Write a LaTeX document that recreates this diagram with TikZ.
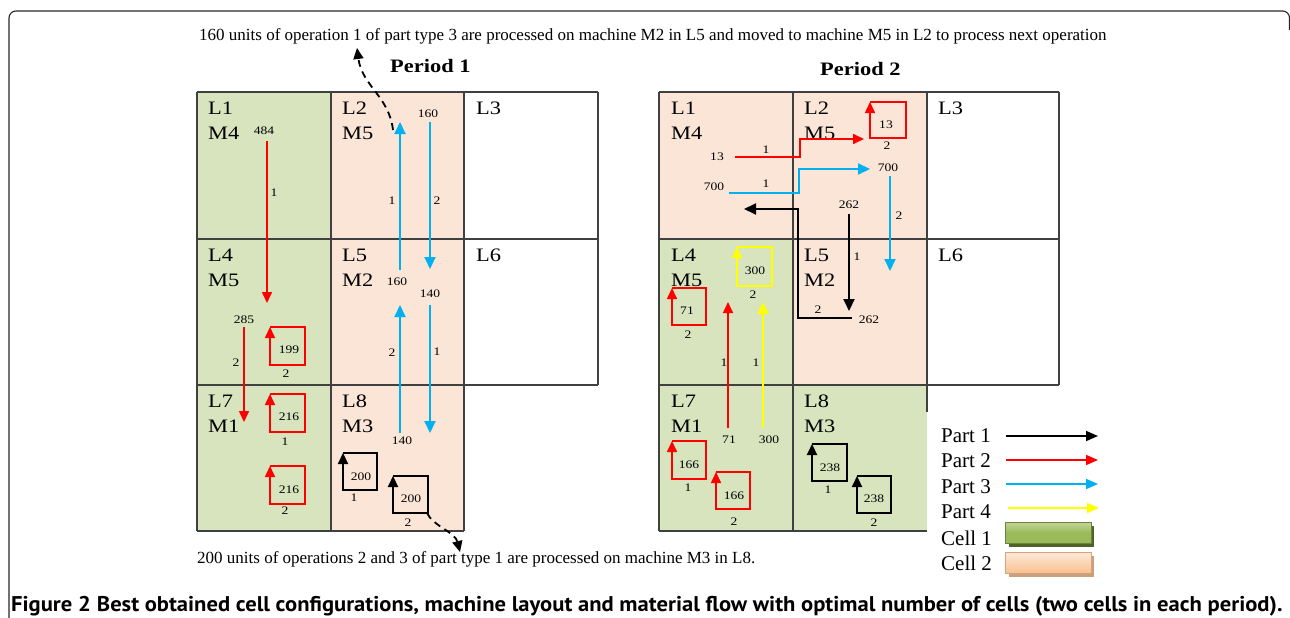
\documentclass[tikz,border=0pt]{standalone}
\usepackage{fontspec}
\setmainfont{Liberation Serif}
\newfontfamily\wideserif{Liberation Serif}[FakeStretch=1.18]
\newfontfamily\capfont{PT Sans}[FakeStretch=1.06]
\usetikzlibrary{arrows.meta}
\definecolor{gcell}{HTML}{D7E4BD}
\definecolor{pcell}{HTML}{FBE5D6}
\definecolor{pblue}{HTML}{00B0F0}
\definecolor{pyel}{HTML}{FFFF00}
\definecolor{gridc}{HTML}{404040}
\definecolor{cellonea}{HTML}{9BBB59}
\definecolor{celloneb}{HTML}{C3D69B}
\definecolor{cellonec}{HTML}{4F6228}
\definecolor{celltwoa}{HTML}{FAC090}
\definecolor{celltwob}{HTML}{FDEADA}
\definecolor{celltwoc}{HTML}{C9A07E}
\newcommand\celllab[5]{%
  \node[lab] (#1L) at (#2,{#3+22}) {#4};
  \node[lab] (#1M) at (#2,{#3+47}) {#5};}
\newcommand\loopbox[6]{%
  \draw[#1] (#2,#3) -- (#4,#3) -- (#4,#5) -- (#2,#5) -- (#2,#3);}
\begin{document}
\begin{tikzpicture}[x=1pt,y=-1pt,
  gl/.style={draw=gridc,line width=1.4pt},
  lab/.style={font=\wideserif\fontsize{19}{22}\selectfont,anchor=base west,inner sep=0pt},
  num/.style={font=\wideserif\fontsize{11.5}{12}\selectfont,inner sep=0pt},
  note/.style={font=\fontsize{17}{20}\selectfont,anchor=base west,inner sep=0pt},
  per/.style={font=\wideserif\bfseries\fontsize{19}{22}\selectfont,anchor=base west,inner sep=0pt},
  leg/.style={font=\fontsize{21}{24}\selectfont,anchor=base west,inner sep=0pt},
  redarr/.style={draw=red,line width=1.6pt,-{Triangle[length=11pt,width=10pt]}},
  redloop/.style={draw=red,line width=1.6pt,line join=miter,-{Triangle[length=11pt,width=10pt]}},
  bluearr/.style={draw=pblue,line width=1.9pt,-{Triangle[length=12pt,width=11pt]}},
  yelarr/.style={draw=pyel,line width=1.9pt,-{Triangle[length=12pt,width=11pt]}},
  yelloop/.style={draw=pyel,line width=1.9pt,line join=miter,-{Triangle[length=11pt,width=10pt]}},
  blkarr/.style={draw=black,line width=2pt,-{Triangle[length=12pt,width=11pt]}},
  blkloop/.style={draw=black,line width=2.2pt,line join=miter,-{Triangle[length=11pt,width=10pt]}},
  dasharr/.style={draw=black,line width=1.8pt,dash pattern=on 7pt off 5pt,-{Triangle[length=11pt,width=10pt]}},
  legarr/.style={line width=1.6pt,-{Triangle[length=12pt,width=10pt]}}]
\useasboundingbox (0,0) rectangle (1290,618);
% outer frame
\draw[line width=1.1pt,draw=black!85,rounded corners=7pt] (9,640) -- (9,11) -- (1289.5,11) -- (1289.5,30);

% ---------------- Period 1 ----------------
\fill[gcell] (197,92) rectangle (331,531);
\fill[pcell] (331,92) rectangle (464,531);
\draw[gl] (197,92) -- (598,92) (197,239) -- (598,239) (197,385) -- (598,385) (197,531) -- (464,531);
\draw[gl] (197,92) -- (197,531) (331,92) -- (331,531) (464,92) -- (464,531) (598,92) -- (598,385);
\celllab{a1}{208}{92}{L1}{M4}
\celllab{a2}{342}{92}{L2}{M5}
\node[lab] (a3L) at (476,114) {L3};
\celllab{a4}{208}{239}{L4}{M5}
\celllab{a5}{342}{239}{L5}{M2}
\node[lab] (a6L) at (476,261) {L6};
\celllab{a7}{208}{385}{L7}{M1}
\celllab{a8}{342}{385}{L8}{M3}
\node[per] (per1) at (390,72) {Period 1};

% red flows
\draw[redarr] (267,141) -- (267,303);
\node[num] (n484) at (264,131) {484};
\node[num] (n484o) at (274,193) {1};
\draw[redarr] (244,327) -- (244,422);
\node[num] (n285) at (244,320) {285};
\node[num] (n285o) at (236,363) {2};
\loopbox{redloop}{270}{327}{305}{365}{}
\node[num] (n199) at (289,350) {199};
\node[num] (n199o) at (286,374) {2};
\loopbox{redloop}{270}{394}{305}{432}{}
\node[num] (n216a) at (289,417) {216};
\node[num] (n216ao) at (285,442) {1};
\loopbox{redloop}{270}{466}{305}{504}{}
\node[num] (n216b) at (289,490) {216};
\node[num] (n216bo) at (285,511) {2};
% blue flows
\draw[bluearr] (400,270) -- (400,122);
\draw[bluearr] (400,433) -- (400,305);
\draw[bluearr] (430,122) -- (430,269);
\draw[bluearr] (430,305) -- (430,433);
\node[num] (b160t) at (428,114) {160};
\node[num] (b1a) at (392,201) {1};
\node[num] (b2a) at (437,201) {2};
\node[num] (b160m) at (397,282) {160};
\node[num] (b140m) at (430,294) {140};
\node[num] (b2b) at (392,353) {2};
\node[num] (b1b) at (437,352) {1};
\node[num] (b140b) at (402,441) {140};
% black loops
\loopbox{blkloop}{343}{453}{377}{490}{}
\node[num] (k200a) at (361,477) {200};
\node[num] (k200ao) at (354,498) {1};
\loopbox{blkloop}{393}{476}{428}{513}{}
\node[num] (k200b) at (411,499) {200};
\node[num] (k200bo) at (408,523) {2};
% notes
\node[note] (topnote) at (199,40.5) {160 units of operation 1 of part type 3 are processed on machine M2 in L5 and moved to machine M5 in L2 to process next operation};
\node[note] (botnote) at (197,563) {200 units of operations 2 and 3 of part type 1 are processed on machine M3 in L8.};
\coordinate (dtop) at (393,130);
\coordinate (dbot) at (427,513);
\draw[dasharr] (dtop) .. controls (389,96) and (362,86) .. (357,48);
\draw[dasharr] (dbot) .. controls (433,526) and (455,532) .. (460,552);

% ---------------- Period 2 ----------------
\fill[pcell] (659,92) rectangle (927,239);
\fill[gcell] (659,239) rectangle (793,385);
\fill[pcell] (793,239) rectangle (927,385);
\fill[gcell] (659,385) rectangle (927,531);
\draw[gl] (659,92) -- (1059,92) (659,239) -- (1059,239) (659,385) -- (1059,385) (659,531) -- (927,531);
\draw[gl] (659,92) -- (659,531) (793,92) -- (793,531) (927,92) -- (927,412) (1059,92) -- (1059,385);
\celllab{c1}{671}{92}{L1}{M4}
\celllab{c2}{804}{92}{L2}{M5}
\node[lab] (c3L) at (938,114) {L3};
\celllab{c4}{671}{239}{L4}{M5}
\celllab{c5}{804}{239}{L5}{M2}
\node[lab] (c6L) at (938,261) {L6};
\celllab{c7}{671}{385}{L7}{M1}
\celllab{c8}{804}{385}{L8}{M3}
\node[per] (per2) at (820,75) {Period 2};

% red
\draw[redarr] (735,157) -- (800,157) -- (800,139) -- (864,139);
\node[num] (r13) at (717,157) {13};
\node[num] (r13o) at (766,150) {1};
\loopbox{redloop}{870}{102}{906}{138}{}
\node[num] (r13b) at (886,125) {13};
\node[num] (r13bo) at (887,146) {2};
% blue
\draw[bluearr] (729,193) -- (799,193) -- (799,169) -- (870,169);
\node[num] (u700) at (714,187) {700};
\node[num] (u700o) at (766,184) {1};
\node[num] (u700b) at (888,168) {700};
\draw[bluearr] (890,176) -- (890,271);
\node[num] (u2) at (899,216) {2};
% black
\node[num] (k262) at (849,205) {262};
\draw[blkarr] (849,214) -- (849,311);
\node[num] (k262o) at (857,257) {1};
\node[num] (k262b) at (869,320) {262};
\draw[blkarr] (852,318) -- (798,318) -- (798,209) -- (744,209);
\node[num] (k262bo) at (818,310) {2};
% L4 loops
\loopbox{yelloop}{737}{247}{772}{286}{}
\node[num] (y300) at (755,271) {300};
\node[num] (y300o) at (753,295) {2};
\loopbox{redloop}{672}{288}{706}{325}{}
\node[num] (r71) at (687,311) {71};
\node[num] (r71o) at (688,335) {2};
% vertical flows L7 -> L4
\draw[redarr] (728,428) -- (728,302);
\node[num] (r71b) at (729,440) {71};
\node[num] (r71bo) at (724,363) {1};
\draw[yelarr] (763,428) -- (763,302);
\node[num] (y300b) at (769,440) {300};
\node[num] (y300bo) at (756,363) {1};
% L7 loops
\loopbox{redloop}{672}{441}{706}{479}{}
\node[num] (r166a) at (689,465) {166};
\node[num] (r166ao) at (688,488) {1};
\loopbox{redloop}{716}{472}{750}{509}{}
\node[num] (r166b) at (734,496) {166};
\node[num] (r166bo) at (734,522) {2};
% L8 loops
\loopbox{blkloop}{812}{444}{847}{481}{}
\node[num] (k238a) at (830,468) {238};
\node[num] (k238ao) at (828,490) {1};
\loopbox{blkloop}{857}{476}{891}{513}{}
\node[num] (k238b) at (874,499) {238};
\node[num] (k238bo) at (874,523) {2};

% ---------------- Legend ----------------
\node[leg] (lp1) at (941,442) {Part 1};
\node[leg] (lp2) at (941,467) {Part 2};
\node[leg] (lp3) at (941,493) {Part 3};
\node[leg] (lp4) at (941,518) {Part 4};
\node[leg] (lc1) at (941,545) {Cell 1};
\node[leg] (lc2) at (941,570) {Cell 2};
\draw[legarr,draw=black] (1006,436) -- (1098,436);
\draw[legarr,draw=red] (1006,460) -- (1098,460);
\draw[legarr,draw=pblue] (1006,484) -- (1098,484);
\draw[legarr,draw=pyel] (1008,508) -- (1099,508);
\fill[cellonec] (1009,526) rectangle (1094,547);
\shade[top color=celloneb,bottom color=cellonea,middle color=cellonea] (1005,522) rectangle (1091,543);
\draw[draw=cellonea!70!black,line width=0.8pt] (1005,522) rectangle (1091,543);
\fill[celltwoc] (1009,556) rectangle (1094,577);
\shade[top color=celltwob,bottom color=celltwoa] (1005,552) rectangle (1091,573);
\draw[draw=celltwoa!85!black,line width=0.8pt] (1005,552) rectangle (1091,573);

% ---------------- Caption ----------------
\node[font=\capfont\fontsize{21.3}{24}\selectfont,anchor=base west,inner sep=0pt] (caption) at (11,611)
  {\textbf{Figure 2} \textbf{Best obtained cell configurations, machine layout and material flow with optimal number of cells (two cells in each period).}};
\end{tikzpicture}
\end{document}
